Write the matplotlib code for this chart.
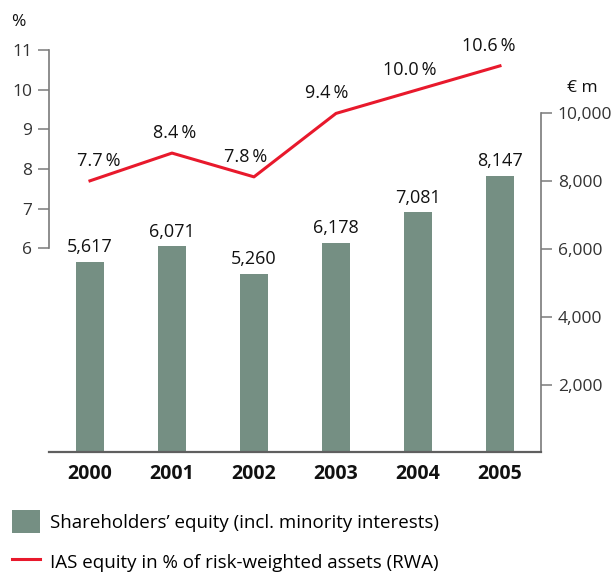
import matplotlib
matplotlib.use("Agg")
import matplotlib.pyplot as plt
from matplotlib.patches import Patch
from matplotlib.lines import Line2D

plt.rcParams["font.family"] = ["Open Sans", "DejaVu Sans"]

years = ["2000", "2001", "2002", "2003", "2004", "2005"]
equity = [5617, 6071, 5260, 6178, 7081, 8147]  # € m
ias_ratio = [7.7, 8.4, 7.8, 9.4, 10.0, 10.6]  # % of RWA
equity_labels = ["5,617", "6,071", "5,260", "6,178", "7,081", "8,147"]
ratio_labels = ["7.7\u2009%", "8.4\u2009%", "7.8\u2009%", "9.4\u2009%", "10.0\u2009%", "10.6\u2009%"]
# small horizontal nudges of the % labels (points), as placed in the original
ratio_dx = [6, 2, -6, -7, -6, -8]

bar_color = "#758f83"
line_color = "#e8192c"
spine_color = "#7a7a7a"

fig = plt.figure(figsize=(6.13, 5.74), dpi=100)
ax = fig.add_axes([0.0799, 0.2117, 0.8026, 0.7012])
ax2 = ax.twinx()

x = list(range(len(years)))

# bars on the € m scale (right)
ax.bar(x, equity, width=0.35, color=bar_color, zorder=2)
ax.set_ylim(0, 11856)
ax.set_xlim(-0.5, 5.5)
ax.yaxis.tick_right()
ax.yaxis.set_label_position("right")
ax.set_yticks([2000, 4000, 6000, 8000, 10000])
ax.set_yticklabels(["2,000", "4,000", "6,000", "8,000", "10,000"])
for xi, v, lab in zip(x, equity, equity_labels):
    ax.annotate(lab, (xi, v), xytext=(0, 4), textcoords="offset points",
                ha="center", va="bottom", fontsize=13, color="#111111")

# line on the % scale (left)
ax2.plot(x, ias_ratio, color=line_color, lw=2.2, zorder=3)
ax2.set_ylim(0.848, 11)
ax2.yaxis.tick_left()
ax2.yaxis.set_label_position("left")
ax2.set_yticks([6, 7, 8, 9, 10, 11])
for xi, v, lab, dx in zip(x, ias_ratio, ratio_labels, ratio_dx):
    ax2.annotate(lab, (xi, v), xytext=(dx, 8), textcoords="offset points",
                 ha="center", va="bottom", fontsize=13, color="#111111")

# spines
for a in (ax, ax2):
    for side in ("top", "left", "right", "bottom"):
        a.spines[side].set_visible(False)
ax.spines["bottom"].set_visible(True)
ax.spines["bottom"].set_color("#5f5f5f")
ax.spines["bottom"].set_linewidth(1.6)
ax.spines["right"].set_visible(True)
ax.spines["right"].set_bounds(0, 10000)
ax.spines["right"].set_color(spine_color)
ax.spines["right"].set_linewidth(1.2)
ax2.spines["left"].set_visible(True)
ax2.spines["left"].set_bounds(6, 11)
ax2.spines["left"].set_color(spine_color)
ax2.spines["left"].set_linewidth(1.2)

ax.tick_params(axis="y", direction="out", length=8, width=1.1, color=spine_color,
               labelsize=12.5, labelcolor="#333333", pad=4)
ax2.tick_params(axis="y", direction="out", length=8, width=1.1, color=spine_color,
                labelsize=12.5, labelcolor="#333333", pad=4)
ax.tick_params(axis="x", length=0, pad=8)
ax.set_xticks(x)
ax.set_xticklabels(years, fontsize=14, fontweight="bold", color="#111111")

fig.text(18 / 613, 1 - 22 / 574, "%", fontsize=12.5, ha="center", va="center", color="#111111")
fig.text(582 / 613, 1 - 88 / 574, "€ m", fontsize=12.5, ha="center", va="center", color="#111111")

handles = [Patch(facecolor=bar_color, edgecolor="none"),
           Line2D([0], [0], color=line_color, lw=2.2)]
labels = ["Shareholders’ equity (incl. minority interests)",
          "IAS equity in % of risk-weighted assets (RWA)"]
fig.legend(handles, labels, loc="upper left", bbox_to_anchor=(0.0196, 0.1115),
           frameon=False, fontsize=13.5, handlelength=1.5, handleheight=1.5,
           handletextpad=0.5, labelspacing=0.95, borderaxespad=0, borderpad=0)

fig.savefig("out.png", dpi=100)
